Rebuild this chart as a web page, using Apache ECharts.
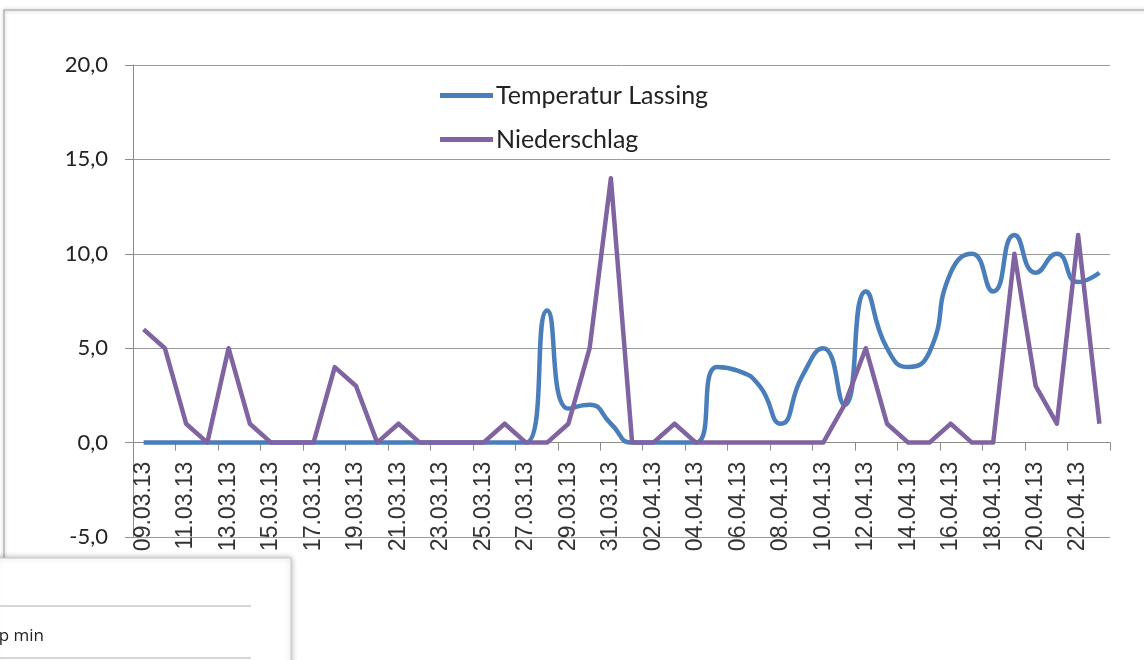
<!DOCTYPE html>
<html>
<head>
<meta charset="utf-8">
<script src="https://cdn.jsdelivr.net/npm/echarts@6/dist/echarts.min.js"></script>
<style>
html,body{margin:0;padding:0;background:#fff;}
#chart{width:1144px;height:660px;}
</style>
</head>
<body>
<div id="chart"></div>
<script>
var categories = [
  '09.03.13','10.03.13','11.03.13','12.03.13','13.03.13','14.03.13','15.03.13','16.03.13',
  '17.03.13','18.03.13','19.03.13','20.03.13','21.03.13','22.03.13','23.03.13','24.03.13',
  '25.03.13','26.03.13','27.03.13','28.03.13','29.03.13','30.03.13','31.03.13','01.04.13',
  '02.04.13','03.04.13','04.04.13','05.04.13','06.04.13','07.04.13','08.04.13','09.04.13',
  '10.04.13','11.04.13','12.04.13','13.04.13','14.04.13','15.04.13','16.04.13','17.04.13',
  '18.04.13','19.04.13','20.04.13','21.04.13','22.04.13','23.04.13'
];
var temperaturLassing = [
  0,0,0,0,0,0,0,0,
  0,0,0,0,0,0,0,0,
  0,0,0,7,1.8,2,1,0,
  0,0,0,4,3.8,3,1,3.5,
  5,2,8,5,4,4.8,9,10,
  8,11,9,10,8.5,9
];
var niederschlag = [
  6,5,1,0,5,1,0,0,
  0,4,3,0,1,0,0,0,
  0,1,0,0,1,5,14,0,
  0,1,0,0,0,0,0,0,
  0,2,5,1,0,0,1,0,
  0,10,3,1,11,1
];
var yTicks = { min: -5, max: 20, interval: 5 };
var seriesNames = ['Temperatur Lassing', 'Niederschlag'];

var chart = echarts.init(document.getElementById('chart'));
chart.setOption({
  animation: false,
  backgroundColor: '#fff',
  grid: { left: 133, right: 34, top: 65, bottom: 123 },
  legend: {
    orient: 'vertical',
    left: 435,
    top: 78,
    icon: 'rect',
    itemWidth: 53,
    itemHeight: 5,
    itemGap: 19,
    textStyle: { fontFamily: 'Lato', fontSize: 25, color: '#222', padding: [0,0,0,-2] },
    data: seriesNames
  },
  xAxis: {
    type: 'category',
    data: categories,
    boundaryGap: true,
    offset: -94.4,
    axisLine: { onZero: false, lineStyle: { color: '#8c8c8c', width: 1 } },
    axisTick: { show: true, interval: 1, length: 8, lineStyle: { color: '#8c8c8c' } },
    axisLabel: {
      interval: 1, rotate: 90, margin: 19,
      fontFamily: 'Liberation Sans', fontSize: 23, color: '#333'
    },
    splitLine: { show: false }
  },
  yAxis: {
    type: 'value',
    min: yTicks.min, max: yTicks.max, interval: yTicks.interval,
    axisLine: { show: true, lineStyle: { color: '#8c8c8c', width: 1 } },
    axisTick: { show: true, length: 8, lineStyle: { color: '#8c8c8c' } },
    axisLabel: {
      margin: 25, fontFamily: 'Lato', fontSize: 22, color: '#222',
      formatter: function (v) { return v.toFixed(1).replace('.', ','); }
    },
    splitLine: { show: true, lineStyle: { color: '#9a9a9a', width: 1 } }
  },
  series: [
    {
      name: seriesNames[0], type: 'line', data: temperaturLassing,
      smooth: 0.55, showSymbol: false, symbol: 'none',
      lineStyle: { color: '#4A7EBB', width: 4.5 }, itemStyle: { color: '#4A7EBB' }, z: 3
    },
    {
      name: seriesNames[1], type: 'line', data: niederschlag,
      smooth: false, showSymbol: false, symbol: 'none',
      lineStyle: { color: '#8064A2', width: 4.5, join: 'round' }, itemStyle: { color: '#8064A2' }, z: 4
    }
  ],
  graphic: [
    { type: 'rect', shape: { x: 4, y: 10, width: 1160, height: 700 },
      style: { fill: 'none', stroke: '#b5b5b5', lineWidth: 1.5, shadowBlur: 4, shadowColor: 'rgba(0,0,0,0.25)' }, z: 0 },
    { type: 'group', z: 100, children: [
      { type: 'rect', shape: { x: -5, y: 558, width: 296, height: 120 },
        style: { fill: '#fff', stroke: '#c8c8c8', lineWidth: 1, shadowBlur: 6, shadowColor: 'rgba(0,0,0,0.3)' } },
      { type: 'line', shape: { x1: 0, y1: 606, x2: 251, y2: 606 }, style: { stroke: '#c8c8c8', lineWidth: 1.5 } },
      { type: 'text', style: { x: -36, y: 636, text: 'Temp min', font: '17px "Open Sans"', fill: '#222', verticalAlign: 'middle' } },
      { type: 'line', shape: { x1: 0, y1: 658, x2: 251, y2: 658 }, style: { stroke: '#c8c8c8', lineWidth: 1.5 } }
    ]}
  ]
});
</script>
</body>
</html>
